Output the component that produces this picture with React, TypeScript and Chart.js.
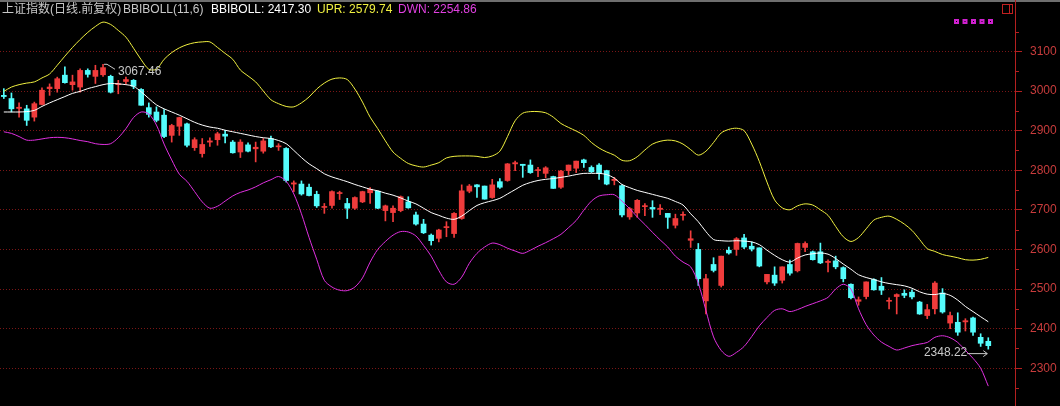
import React, { useEffect, useRef } from 'react';
import { Chart, registerables } from 'chart.js';

Chart.register(...registerables);

// ---- data ----
const OPEN = [
  2989, 2981, 2956, 2955, 2934, 2966, 3006, 3006, 3040, 3016,
  3010, 3052, 3037, 3041, 3037, 3016, 3024, 3027, 3004, 2958,
  2947, 2939, 2888, 2911, 2917, 2857, 2842, 2871, 2877, 2891,
  2871, 2846, 2864, 2854, 2848, 2880, 2859, 2855, 2765, 2765,
  2757, 2739, 2706, 2711, 2741, 2716, 2704, 2720, 2743, 2747,
  2698, 2693, 2698, 2720, 2687, 2664, 2636, 2628, 2655, 2640,
  2678, 2747, 2763, 2760, 2731, 2771, 2774, 2816, 2815, 2813,
  2799, 2792, 2784, 2757, 2799, 2805, 2826, 2807, 2813, 2799,
  2774, 2761, 2682, 2692, 2708, 2706, 2701, 2691, 2661, 2686,
  2623, 2600, 2470, 2562, 2509, 2598, 2600, 2629, 2608, 2604,
  2518, 2535, 2522, 2562, 2546, 2605, 2594, 2594, 2567, 2571,
  2554, 2512, 2469, 2481, 2524, 2507, 2469, 2481, 2489, 2492,
  2467, 2433, 2450, 2490, 2414, 2416, 2417, 2427, 2378, 2368,
];
const HIGH = [
  3006, 2995, 2970, 2964, 2972, 3008, 3018, 3035, 3061, 3040,
  3056, 3056, 3065, 3067.46, 3040, 3027, 3035, 3029, 3006, 2970,
  2960, 2953, 2916, 2934, 2919, 2882, 2880, 2882, 2896, 2901,
  2875, 2877, 2869, 2871, 2880, 2886, 2867, 2857, 2773, 2773,
  2765, 2747, 2716, 2748, 2747, 2729, 2733, 2747, 2756, 2748,
  2712, 2710, 2735, 2733, 2694, 2676, 2639, 2651, 2670, 2693,
  2763, 2764, 2764, 2760, 2777, 2779, 2817, 2823, 2815, 2826,
  2807, 2809, 2785, 2800, 2813, 2823, 2828, 2811, 2817, 2800,
  2782, 2763, 2706, 2726, 2716, 2723, 2713, 2691, 2689, 2695,
  2647, 2615, 2537, 2579, 2583, 2606, 2630, 2638, 2619, 2604,
  2537, 2556, 2556, 2573, 2616, 2619, 2596, 2616, 2574, 2583,
  2556, 2513, 2480, 2518, 2526, 2529, 2478, 2488, 2498, 2498,
  2469, 2461, 2519, 2501, 2442, 2440, 2425, 2429, 2387, 2377,
];
const LOW = [
  2981, 2947, 2934, 2913, 2924, 2965, 2989, 2997, 3020, 3002,
  2997, 3035, 3019, 3037, 2995, 2993, 3018, 3006, 2964, 2934,
  2922, 2882, 2871, 2888, 2859, 2850, 2833, 2860, 2863, 2869,
  2843, 2832, 2846, 2821, 2843, 2857, 2850, 2770, 2746, 2737,
  2735, 2706, 2691, 2704, 2726, 2678, 2701, 2718, 2716, 2703,
  2672, 2670, 2695, 2704, 2661, 2640, 2611, 2619, 2632, 2630,
  2676, 2743, 2731, 2727, 2729, 2754, 2772, 2799, 2782, 2792,
  2784, 2781, 2754, 2754, 2788, 2794, 2807, 2794, 2777, 2763,
  2763, 2682, 2676, 2681, 2685, 2681, 2688, 2653, 2654, 2674,
  2605, 2509, 2437, 2543, 2505, 2588, 2585, 2602, 2596, 2556,
  2513, 2509, 2515, 2535, 2543, 2594, 2573, 2564, 2543, 2551,
  2518, 2475, 2459, 2475, 2497, 2486, 2450, 2437, 2478, 2475,
  2436, 2425, 2437, 2439, 2400, 2383, 2394, 2383, 2355, 2348.22,
];
const CLOSE = [
  2986, 2955, 2959, 2926, 2968, 3002, 3010, 3031, 3021, 3023,
  3052, 3042, 3052, 3059, 2997, 3018, 3029, 3012, 2964, 2941,
  2926, 2885, 2913, 2933, 2863, 2877, 2865, 2874, 2892, 2886,
  2844, 2871, 2848, 2858, 2874, 2859, 2861, 2774, 2768, 2740,
  2736, 2710, 2708, 2746, 2743, 2704, 2731, 2746, 2752, 2704,
  2710, 2704, 2733, 2705, 2664, 2642, 2622, 2649, 2657, 2691,
  2748, 2760, 2758, 2727, 2763, 2757, 2816, 2819, 2812, 2794,
  2801, 2806, 2754, 2798, 2813, 2823, 2819, 2796, 2792, 2765,
  2777, 2687, 2703, 2724, 2710, 2702, 2704, 2681, 2678, 2688,
  2627, 2526, 2526, 2547, 2583, 2591, 2627, 2606, 2601, 2558,
  2537, 2515, 2556, 2540, 2615, 2615, 2574, 2566, 2570, 2556,
  2526, 2478, 2473, 2518, 2498, 2497, 2471, 2486, 2484, 2480,
  2437, 2448, 2515, 2442, 2433, 2391, 2420, 2391, 2363, 2357,
];
const MID = [
  2947, 2947, 2947, 2948, 2951, 2961, 2970, 2978, 2986, 2994,
  2999, 3006, 3011, 3016, 3019, 3018, 3016, 3012, 2998, 2981,
  2965, 2955, 2947, 2939, 2930, 2921, 2914, 2909, 2906, 2901,
  2897, 2893, 2889, 2885, 2882, 2880, 2875, 2867, 2850, 2832,
  2816, 2804, 2791, 2783, 2777, 2771, 2764, 2758, 2752, 2748,
  2742, 2737, 2730, 2722, 2715, 2704, 2693, 2686, 2679, 2676,
  2684, 2698, 2711, 2718, 2723, 2729, 2740, 2751, 2762, 2769,
  2774, 2777, 2779, 2782, 2785, 2789, 2792, 2792, 2792, 2789,
  2780, 2764, 2756, 2749, 2744, 2739, 2734, 2729, 2721, 2712,
  2690, 2670, 2645, 2625, 2622, 2621, 2622, 2621, 2619, 2612,
  2598, 2585, 2574, 2568, 2578, 2586, 2589, 2591, 2588, 2577,
  2563, 2550, 2536, 2529, 2524, 2518, 2514, 2511, 2508, 2502,
  2493, 2487, 2486, 2489, 2484, 2472, 2456, 2443, 2430, 2417.3,
];
const UPR = [
  2999, 3010, 3016, 3020, 3023, 3033, 3043, 3065, 3088, 3110,
  3130, 3148, 3163, 3174, 3168, 3153, 3136, 3108, 3079, 3055,
  3055, 3080, 3097, 3109, 3117, 3122, 3124, 3124, 3110, 3095,
  3080, 3053, 3038, 3023, 3000, 2978, 2968, 2961, 2960, 2970,
  2985, 3005, 3020, 3030, 3033, 3029, 3005, 2972, 2934, 2905,
  2874, 2846, 2830, 2817, 2811, 2808, 2813, 2819, 2831, 2835,
  2836, 2836, 2835, 2832, 2836, 2848, 2885, 2925, 2944, 2948,
  2948, 2945, 2934, 2918, 2908, 2899, 2888, 2870, 2856, 2846,
  2838, 2825, 2824, 2834, 2851, 2866, 2873, 2876, 2874, 2866,
  2852, 2838, 2848, 2870, 2894, 2903, 2906, 2900, 2866, 2822,
  2770, 2725, 2705, 2700, 2710, 2715, 2712, 2700, 2686, 2658,
  2632, 2620, 2630, 2652, 2674, 2681, 2684, 2676, 2664, 2648,
  2625, 2602, 2595, 2587, 2583, 2579, 2574, 2573, 2575, 2579.74,
];
const DWN = [
  2897, 2893, 2885, 2876, 2876, 2879, 2882, 2883, 2882, 2879,
  2875, 2872, 2867, 2865, 2867, 2882, 2905, 2933, 2947, 2942,
  2914, 2866, 2826, 2790, 2772, 2746, 2720, 2704, 2709, 2722,
  2735, 2744, 2750, 2758, 2768, 2776, 2784, 2772, 2740, 2690,
  2630, 2575, 2522, 2505, 2497, 2496, 2505, 2528, 2568, 2600,
  2620, 2636, 2645, 2644, 2634, 2610, 2583, 2547, 2518, 2512,
  2530, 2565, 2590, 2606, 2616, 2612, 2603, 2596, 2590, 2598,
  2608, 2617, 2627, 2638, 2655, 2673, 2699, 2722, 2735, 2738,
  2738, 2722, 2703, 2682, 2663, 2643, 2624, 2606, 2583, 2568,
  2556, 2515, 2446, 2379, 2345, 2330, 2340, 2355, 2380, 2407,
  2428, 2446, 2450, 2443, 2448, 2456, 2463, 2470, 2479, 2500,
  2512, 2500, 2450, 2410, 2384, 2366, 2355, 2346, 2351, 2357,
  2361, 2365, 2378, 2382, 2377, 2365, 2345, 2325, 2300, 2254.86,
];
const Y_TICKS = [2300, 2400, 2500, 2600, 2700, 2800, 2900, 3000, 3100];
const MINOR_TICKS = [2250, 2350, 2450, 2550, 2650, 2750, 2850, 2950, 3050, 3150];
const TITLE_NAME = '上证指数(日线.前复权)';
const TITLE_IND = 'BBIBOLL(11,6)';

const UP = '#f03c3c';
const DOWN = '#54fcfc';
const AXIS_RED = '#b42020';

const xs = OPEN.map((_, i) => i + 1);
const candleColors = OPEN.map((o, i) => (CLOSE[i] >= o ? UP : DOWN));

const overlayPlugin = {
  id: 'tdxOverlay',
  afterDraw(chart: any) {
    const ctx = chart.ctx as CanvasRenderingContext2D;
    const xS = chart.scales.x;
    const yS = chart.scales.y;
    const area = chart.chartArea;
    ctx.save();
    ctx.fillStyle = '#6e6e6e';
    ctx.fillRect(0, 0, chart.width, 2);
    ctx.fillStyle = AXIS_RED;
    ctx.fillRect(Math.round(area.right), 0, 1, chart.height);
    for (const v of MINOR_TICKS) {
      const y = Math.round(yS.getPixelForValue(v)) + 0.5;
      ctx.strokeStyle = AXIS_RED;
      ctx.lineWidth = 1;
      ctx.beginPath();
      ctx.moveTo(area.right, y);
      ctx.lineTo(area.right + 4, y);
      ctx.stroke();
    }
    ctx.textBaseline = 'middle';
    ctx.textAlign = 'left';
    ctx.font = '12px "Liberation Sans", "Noto Sans CJK SC", sans-serif';
    const n = CLOSE.length - 1;
    const segs: [string, string, number][] = [
      [TITLE_NAME, '#c8c8c8', 2],
      [TITLE_IND, '#c8c8c8', 123],
      ['BBIBOLL: ' + MID[n].toFixed(2), '#ffffff', 211],
      ['UPR: ' + UPR[n].toFixed(2), '#f0f040', 317],
      ['DWN: ' + DWN[n].toFixed(2), '#e040e0', 398],
    ];
    for (const [t, c, x] of segs) {
      ctx.fillStyle = c;
      ctx.fillText(t, x, 10);
    }
    ctx.fillStyle = '#d020d0';
    for (let k = 0; k < 5; k++) {
      const mx = 954 + k * 8.5;
      ctx.fillRect(mx, 19, 5, 5);
    }
    ctx.fillStyle = '#000';
    for (let k = 0; k < 5; k++) {
      const mx = 954 + k * 8.5;
      ctx.fillRect(mx + 2, 21, 1, 1);
    }
    ctx.strokeStyle = '#c02020';
    ctx.lineWidth = 1;
    ctx.strokeRect(1002.5, 4.5, 10, 9);
    ctx.beginPath();
    ctx.moveTo(1009.5, 4.5);
    ctx.lineTo(1009.5, 13.5);
    ctx.stroke();

    let hi = 0, lo = 0;
    for (let i = 1; i < HIGH.length; i++) {
      if (HIGH[i] > HIGH[hi]) hi = i;
      if (LOW[i] < LOW[lo]) lo = i;
    }
    ctx.strokeStyle = '#c8c8c8';
    ctx.fillStyle = '#c8c8c8';
    const hx = xS.getPixelForValue(hi + 1);
    const hy = yS.getPixelForValue(HIGH[hi]);
    ctx.beginPath();
    ctx.moveTo(hx + 1, hy);
    ctx.lineTo(hx + 4, hy);
    ctx.lineTo(hx + 12, hy + 5);
    ctx.stroke();
    ctx.fillText(HIGH[hi].toFixed(2), hx + 15, hy + 7);

    const lx = xS.getPixelForValue(lo + 1);
    const ly = yS.getPixelForValue(LOW[lo]) + 4;
    ctx.textAlign = 'right';
    ctx.fillText(LOW[lo].toFixed(2), lx - 21, ly);
    ctx.beginPath();
    ctx.moveTo(lx - 21, ly + 0.5);
    ctx.lineTo(lx - 1, ly + 0.5);
    ctx.moveTo(lx - 5, ly - 2.5);
    ctx.lineTo(lx - 1, ly + 0.5);
    ctx.lineTo(lx - 5, ly + 3.5);
    ctx.stroke();
    ctx.restore();
  },
};

export default function App() {
  const ref = useRef<HTMLCanvasElement | null>(null);
  useEffect(() => {
    document.body.style.margin = '0';
    document.body.style.background = '#000';
    const canvas = ref.current;
    if (!canvas) return;
    const lineDs = (data: number[], color: string) => ({
      type: 'line' as const,
      data: data.map((v, i) => ({ x: xs[i], y: v })),
      borderColor: color,
      borderWidth: 1,
      pointRadius: 0,
      tension: 0.3,
      order: 0,
    });
    const chart = new Chart(canvas, {
      type: 'bar',
      data: {
        datasets: [
          lineDs(MID, '#ffffff'),
          lineDs(UPR, '#f0f040'),
          lineDs(DWN, '#e030e0'),
          {
            type: 'bar',
            data: xs.map((x, i) => ({ x, y: [OPEN[i], CLOSE[i]] })),
            backgroundColor: candleColors,
            borderWidth: 0,
            barThickness: 5,
            minBarLength: 1,
            grouped: false,
            order: 1,
          } as any,
          {
            type: 'bar',
            data: xs.map((x, i) => ({ x, y: [LOW[i], HIGH[i]] })),
            backgroundColor: candleColors,
            borderWidth: 0,
            barThickness: 1,
            minBarLength: 1,
            grouped: false,
            order: 2,
          } as any,
        ],
      },
      options: {
        animation: false,
        responsive: true,
        maintainAspectRatio: false,
        layout: { padding: 0, autoPadding: false },
        plugins: { legend: { display: false }, tooltip: { enabled: false }, title: { display: false } },
        scales: {
          x: {
            type: 'linear',
            min: 0.5,
            max: xs.length + 3.5,
            offset: false,
            display: false,
          },
          y: {
            position: 'right',
            min: 2204.6,
            max: 3229.8,
            afterBuildTicks: (s: any) => {
              s.ticks = Y_TICKS.map((v) => ({ value: v }));
            },
            afterFit: (s: any) => {
              s.width = 45;
              s.paddingTop = 0;
              s.paddingBottom = 0;
            },
            grid: {
              color: '#7a1616',
              lineWidth: 1,
              drawTicks: true,
              tickLength: 7,
              tickColor: AXIS_RED,
              tickWidth: 1,
            },
            border: { display: false, dash: [1, 2] },
            ticks: {
              color: '#c83c3c',
              font: { size: 12, family: '"Liberation Sans", sans-serif' },
              padding: 8,
              callback: (v: any) => String(v),
            },
          },
        },
      },
      plugins: [overlayPlugin],
    });
    return () => chart.destroy();
  }, []);
  return (
    <div style={{ position: 'fixed', left: 0, top: 0, width: 1060, height: 406, background: '#000' }}>
      <canvas ref={ref} />
    </div>
  );
}
